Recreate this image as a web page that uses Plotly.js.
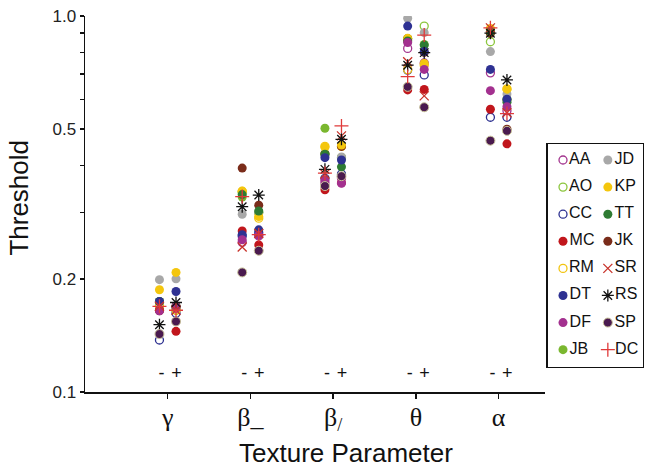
<!DOCTYPE html>
<html>
<head>
<meta charset="utf-8">
<script src="https://cdn.plot.ly/plotly-3.0.1.min.js"></script>
<style>html,body{margin:0;padding:0;background:#fff;}#chart{width:647px;height:468px;}</style>
</head>
<body>
<div id="chart"></div>
<script>
// Categories (texture parameters) and conditions
const categories = ["γ", "β_", "β<sub>/</sub>", "θ", "α"];
const conditions = ["-", "+"];
const xTitle = "Texture Parameter";
const yTitle = "Threshold";

// Observers (legend order: left column then right column)
const observers = ["AA","AO","CC","MC","RM","DT","DF","JB","JD","KP","TT","JK","SR","RS","SP","DC"];
// Drawing order of the data marks (later on top)
const drawOrder = ["AA","AO","CC","RM","JB","JK","MC","JD","KP","TT","DT","DF","SR","RS","SP","DC"];

// Thresholds per observer: [γ-, γ+, β_-, β_+, β/-, β/+, θ-, θ+, α-, α+]
const AA = [0.169, 0.167, 0.250, 0.260, 0.360, 0.370, 0.820, 0.750, 0.706, 0.560];
const AO = [0.169, 0.165, 0.340, 0.300, 0.430, 0.420, 0.870, 0.940, 0.854, 0.600];
const CC = [0.1375,0.162, 0.260, 0.265, 0.370, 0.380, 0.718, 0.697, 0.538, 0.538];
const MC = [0.165, 0.145, 0.268, 0.246, 0.345, 0.360, 0.636, 0.638, 0.565, 0.457];
const RM = [0.169, 0.165, 0.342, 0.290, 0.450, 0.450, 0.720, 0.740, 0.920, 0.640];
const DT = [0.174, 0.185, 0.262, 0.270, 0.420, 0.414, 0.940, 0.804, 0.721, 0.601];
const DF = [0.1645,0.169, 0.254, 0.261, 0.366, 0.359, 0.850, 0.721, 0.633, 0.574];
const JB = [0.174, 0.169, 0.330, 0.300, 0.503, 0.420, 0.860, 0.840, 0.900, 0.600];
const JD = [0.199, 0.200, 0.297, 0.300, 0.425, 0.422, 0.986, 0.903, 0.804, 0.620];
const KP = [0.187, 0.208, 0.342, 0.293, 0.448, 0.454, 0.872, 0.748, 0.927, 0.639];
const TT = [0.174, 0.169, 0.335, 0.303, 0.429, 0.397, 0.858, 0.837, 0.910, 0.590];
const JK = [0.1645,0.169, 0.394, 0.314, 0.430, 0.450, 0.870, 0.800, 0.900, 0.500];
const SR = [0.169, 0.165, 0.243, 0.264, 0.380, 0.480, 0.756, 0.613, 0.930, 0.553];
const RS = [0.151, 0.173, 0.311, 0.334, 0.391, 0.470, 0.740, 0.799, 0.900, 0.676];
const SP = [0.1426,0.154, 0.208, 0.2375,0.353, 0.375, 0.648, 0.572, 0.466, 0.495];
const DC = [0.169, 0.165, 0.331, 0.262, 0.382, 0.510, 0.690, 0.890, 0.930, 0.550];

const values = {AA, AO, CC, MC, RM, DT, DF, JB, JD, KP, TT, JK, SR, RS, SP, DC};

// Y-axis ticks
const yTickVals = [0.1, 0.2, 0.5, 1.0];
const yTickText = ["0.1", "0.2", "0.5", "1.0"];
const yMinorVals = [0.3, 0.4, 0.6, 0.7, 0.8, 0.9];

// Marker styles
const styles = {
  AA: {symbol: "circle-open", color: "#a3358f", size: 8, lw: 1.3},
  AO: {symbol: "circle-open", color: "#8cc63e", size: 8, lw: 1.3},
  CC: {symbol: "circle-open", color: "#2b2f8f", size: 8, lw: 1.3},
  MC: {symbol: "circle", color: "#c1161c", size: 9},
  RM: {symbol: "circle-open", color: "#f2c40f", size: 8, lw: 1.3},
  DT: {symbol: "circle", color: "#2e3192", size: 9},
  DF: {symbol: "circle", color: "#a3308f", size: 9},
  JB: {symbol: "circle", color: "#7ab72f", size: 9},
  JD: {symbol: "circle", color: "#a8a8a8", size: 9},
  KP: {symbol: "circle", color: "#f4c60d", size: 9},
  TT: {symbol: "circle", color: "#2e7b33", size: 9},
  JK: {symbol: "circle", color: "#7a2c1a", size: 9},
  SR: {symbol: "x-thin-open", color: "#c8332a", size: 9, lw: 1.3},
  RS: {symbol: "asterisk-open", color: "#111111", size: 10, lw: 1.3},
  SP: {symbol: "circle", color: "#4a1a4f", size: 9, outline: "#c9c39a"},
  DC: {symbol: "cross-thin-open", color: "#e03a3a", size: 10, lw: 1.3}
};

function markerFor(name) {
  const s = styles[name];
  const marker = {symbol: s.symbol, color: s.color, size: s.size};
  if (s.lw) marker.line = {color: s.color, width: s.lw};
  if (s.outline) marker.line = {color: s.outline, width: 1};
  return marker;
}

const offset = 0.1;
const traces = [];
const xs = [];
categories.forEach((c, i) => { xs.push(i + 1 - offset); xs.push(i + 1 + offset); });

drawOrder.forEach(name => {
  traces.push({
    type: "scatter", mode: "markers", x: xs, y: values[name],
    xaxis: "x", yaxis: "y", marker: markerFor(name), showlegend: false, name: name,
    hoverinfo: "skip"
  });
});

// legend entries (custom two-column legend panel)
observers.forEach((name, idx) => {
  const col = Math.floor(idx / 8), row = idx % 8;
  traces.push({
    type: "scatter", mode: "markers+text", x: [col], y: [row],
    xaxis: "x2", yaxis: "y2", marker: markerFor(name), text: [name],
    textposition: "middle right",
    textfont: {family: "Liberation Sans, Arial, sans-serif", size: 16, color: "#111"},
    showlegend: false, hoverinfo: "skip", cliponaxis: false
  });
});

// "- +" condition labels under each group
const condX = [], condText = [], condY = [];
categories.forEach((c, i) => {
  condX.push(i + 1 - 0.075); condText.push(conditions[0]); condY.push(0.111);
  condX.push(i + 1 + 0.105); condText.push(conditions[1]); condY.push(0.111);
});
traces.push({
  type: "scatter", mode: "text", x: condX, y: condY, text: condText,
  textposition: "middle center", xaxis: "x", yaxis: "y",
  textfont: {family: "Liberation Sans, Arial, sans-serif", size: 18, color: "#111"},
  showlegend: false, hoverinfo: "skip", cliponaxis: false
});

const layout = {
  width: 647, height: 468,
  margin: {l: 85, r: 4, t: 16, b: 76},
  paper_bgcolor: "#fff", plot_bgcolor: "#fff",
  showlegend: false,
  xaxis: {
    domain: [0, 0.8244], range: [0, 5.56],
    tickvals: [1, 2, 3, 4, 5], ticktext: categories,
    ticks: "outside", ticklen: 5, tickwidth: 1.5, tickcolor: "#111",
    ticklabelstandoff: -4,
    showline: true, linecolor: "#111", linewidth: 1.5,
    showgrid: false, zeroline: false,
    tickfont: {family: "Liberation Serif, Times New Roman, serif", size: 26, color: "#111"}
  },
  yaxis: {
    type: "log", range: [-1, 0], domain: [0, 1],
    tickvals: yTickVals, ticktext: yTickText,
    ticks: "outside", ticklen: 4, tickwidth: 1.5, tickcolor: "#111",
    minor: {tickvals: yMinorVals, ticks: "outside", ticklen: 4, tickwidth: 1.5, tickcolor: "#111", showgrid: false},
    showline: true, linecolor: "#111", linewidth: 1.5,
    showgrid: false, zeroline: false,
    tickfont: {family: "Liberation Sans, Arial, sans-serif", size: 17, color: "#222"}
  },
  xaxis2: {
    domain: [0.829, 0.9995], range: [-0.344, 1.778], anchor: "y2",
    showline: true, mirror: true, linecolor: "#111", linewidth: 1.5,
    showgrid: false, zeroline: false, showticklabels: false, ticks: ""
  },
  yaxis2: {
    domain: [0.0665, 0.6595], range: [7.64, -0.59], anchor: "x2",
    showline: true, mirror: true, linecolor: "#111", linewidth: 1.5,
    showgrid: false, zeroline: false, showticklabels: false, ticks: ""
  },
  annotations: [
    {text: xTitle, xref: "paper", yref: "paper", x: 0.4677, y: -0.163,
     xanchor: "center", yanchor: "middle", showarrow: false,
     font: {family: "Liberation Sans, Arial, sans-serif", size: 26, color: "#111"}},
    {text: yTitle, xref: "paper", yref: "paper", x: -0.1183, y: 0.517, textangle: -90,
     xanchor: "center", yanchor: "middle", showarrow: false,
     font: {family: "Liberation Sans, Arial, sans-serif", size: 26, color: "#111"}}
  ]
};

Plotly.newPlot("chart", traces, layout, {displayModeBar: false, staticPlot: true});
</script>
</body>
</html>
